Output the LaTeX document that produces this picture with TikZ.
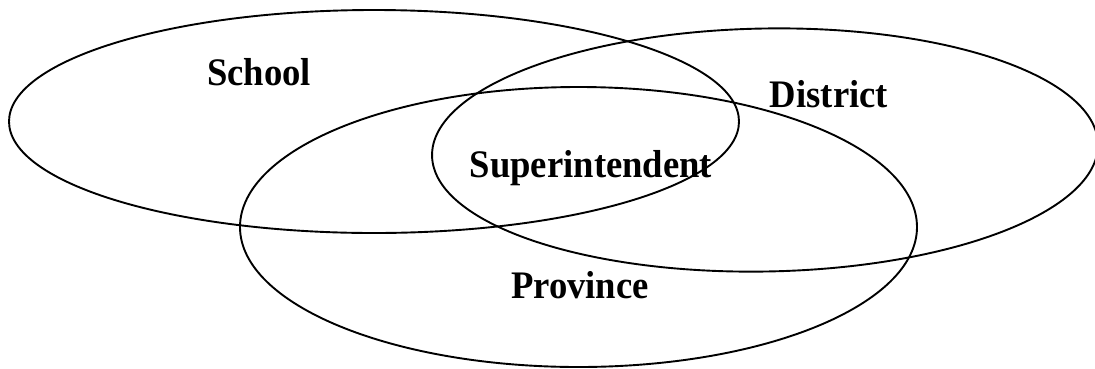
\documentclass[tikz,border=0pt]{standalone}
\usepackage{fontspec}
\usepackage{graphicx}
\setmainfont{Liberation Serif}
\newcommand{\tallname}[1]{\scalebox{0.94}[1]{#1}}
\tikzset{
  ring/.style={draw, line width=1.9pt},
  label/.style={anchor=base, inner sep=0pt, font=\fontsize{39}{42}\selectfont\bfseries}
}
\begin{document}
\begin{tikzpicture}[x=1pt, y=-1pt]
                \useasboundingbox (0,0) rectangle (1095,368);

                % Draw the three circles
                \draw[ring] (374,121.5) ellipse [x radius=365, y radius=111.5];
                \draw[ring, rotate around={1:(765,150)}] (765,150) ellipse [x radius=333, y radius=121.5];
                \draw[ring] (578.5,227) ellipse [x radius=338.5, y radius=140];

                % Mark the names
                \node[label] (school) at (259,85) {\tallname{School}};
                \node[label] (district) at (829,107) {\tallname{District}};
                \node[label] (superintendent) at (591,177) {\tallname{Superintendent}};
                \node[label] (province) at (580,298) {\tallname{Province}};
\end{tikzpicture}
\end{document}
